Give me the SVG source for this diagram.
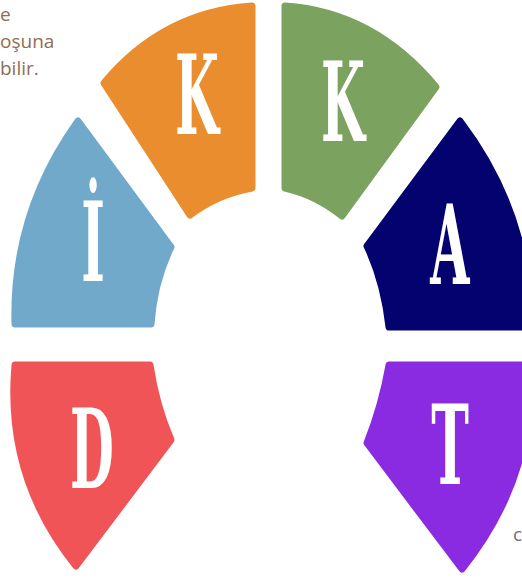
<svg xmlns="http://www.w3.org/2000/svg" width="522" height="582" viewBox="0 0 522 582">
<style>
.seg{stroke-width:7;stroke-linejoin:round}
.let{font-family:"DejaVu Serif",serif;font-weight:bold;font-size:110px;fill:#fff;text-anchor:middle}
.cap{font-family:"Open Sans","Liberation Sans",sans-serif;font-size:19px;fill:#8e6d52}
</style>
<rect width="522" height="582" fill="#fff"/>
<g id="caption">
<text class="cap" x="0" y="21">e</text>
<text class="cap" x="0" y="48">oşuna</text>
<text class="cap" x="0" y="75">bilir.</text>
<text class="cap" x="513" y="541" style="fill:#707070">c</text>
</g>
<g id="node-orange">
<path class="seg" fill="#EA8D2E" stroke="#EA8D2E" d="M252,6 Q163,12 104,83 L190,215 Q218,194 252,188 Z"/>
<text class="let" transform="translate(197,134) scale(0.46,1)">K</text>
</g>
<g id="node-green">
<path class="seg" fill="#7BA25E" stroke="#7BA25E" d="M285,6 Q374,12 436,87 L342,216 Q316,195 285,188 Z"/>
<text class="let" transform="translate(343,141) scale(0.46,1)">K</text>
</g>
<g id="node-navy">
<path class="seg" fill="#03026F" stroke="#03026F" d="M460,121 Q530,213 530,327 L389,327 Q384,282 367,246 Z"/>
<text class="let" transform="translate(450,284) scale(0.46,1)">A</text>
</g>
<g id="node-blue">
<path class="seg" fill="#70A9C9" stroke="#70A9C9" d="M78,121 Q12,213 15,324 L151,324 Q154,282 171,247 Z"/>
<text class="let" transform="translate(93,281) scale(0.46,1)">İ</text>
</g>
<g id="node-red">
<path class="seg" fill="#F05457" stroke="#F05457" d="M15,365 L150,365 Q156,405 171,440 L76,566 Q5,478 15,365 Z"/>
<text class="let" transform="translate(92,488) scale(0.46,1)">D</text>
</g>
<g id="node-purple">
<path class="seg" fill="#8A2BE2" stroke="#8A2BE2" d="M530,365 L389,365 Q382,405 367,443 L462,569 Q535,478 530,365 Z"/>
<text class="let" transform="translate(450,484) scale(0.46,1)">T</text>
</g>
<g id="connectors"/>
</svg>
